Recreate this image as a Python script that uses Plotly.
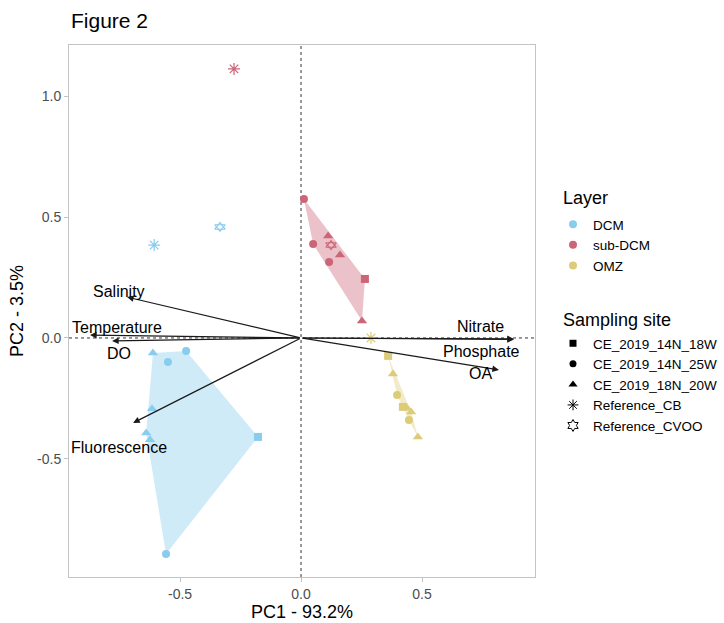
import plotly.graph_objects as go

# ---------------- data ----------------
layers = ["DCM", "sub-DCM", "OMZ"]
layer_colors = ["#88CCEE", "#CC6677", "#DDCC77"]
layer_fills = ["rgba(136,204,238,0.4)", "rgba(204,102,119,0.4)", "rgba(221,204,119,0.4)"]

sites = ["CE_2019_14N_18W", "CE_2019_14N_25W", "CE_2019_18N_20W", "Reference_CB", "Reference_CVOO"]
site_symbols = ["square", "circle", "triangle-up", "asterisk-open", "hexagram-open"]
site_sizes = [8, 8, 9, 10, 10]

# PC scores per layer, per site
dcm_x = {
    "CE_2019_14N_18W": [-0.178],
    "CE_2019_14N_25W": [-0.550, -0.475, -0.558],
    "CE_2019_18N_20W": [-0.612, -0.616, -0.640, -0.624],
    "Reference_CB": [-0.607],
    "Reference_CVOO": [-0.335],
}
dcm_y = {
    "CE_2019_14N_18W": [-0.409],
    "CE_2019_14N_25W": [-0.099, -0.054, -0.893],
    "CE_2019_18N_20W": [-0.062, -0.293, -0.393, -0.421],
    "Reference_CB": [0.384],
    "Reference_CVOO": [0.459],
}
subdcm_x = {
    "CE_2019_14N_18W": [0.264],
    "CE_2019_14N_25W": [0.012, 0.050, 0.116],
    "CE_2019_18N_20W": [0.112, 0.161, 0.252],
    "Reference_CB": [-0.277],
    "Reference_CVOO": [0.124],
}
subdcm_y = {
    "CE_2019_14N_18W": [0.244],
    "CE_2019_14N_25W": [0.574, 0.388, 0.314],
    "CE_2019_18N_20W": [0.421, 0.343, 0.070],
    "Reference_CB": [1.112],
    "Reference_CVOO": [0.384],
}
omz_x = {
    "CE_2019_14N_18W": [0.360, 0.421],
    "CE_2019_14N_25W": [0.397, 0.446],
    "CE_2019_18N_20W": [0.380, 0.438, 0.455, 0.483],
    "Reference_CB": [0.289],
    "Reference_CVOO": [],
}
omz_y = {
    "CE_2019_14N_18W": [-0.074, -0.285],
    "CE_2019_14N_25W": [-0.236, -0.339],
    "CE_2019_18N_20W": [-0.149, -0.289, -0.306, -0.409],
    "Reference_CB": [0.000],
    "Reference_CVOO": [],
}
layer_x = [dcm_x, subdcm_x, omz_x]
layer_y = [dcm_y, subdcm_y, omz_y]

# loadings
variables = ["Salinity", "Temperature", "DO", "Fluorescence", "Nitrate", "Phosphate", "OA"]
load_pc1 = [-0.719, -0.872, -0.781, -0.694, 0.880, 0.880, 0.818]
load_pc2 = [0.169, 0.012, -0.012, -0.351, -0.004, -0.006, -0.132]
# label offsets in pixels (style)
label_dx = [-8, 27, 7, -14, -33, -32, -18]
label_dy = [6, 8, -13, -25, 12, -12, -4]

x_ticks = [-0.5, 0.0, 0.5]
y_ticks = [-0.5, 0.0, 0.5, 1.0]

FONT = "Liberation Sans, Arial, Helvetica, sans-serif"


def convex_hull(pts):
    pts = sorted(set(pts))
    if len(pts) <= 2:
        return pts

    def cross(o, a, b):
        return (a[0] - o[0]) * (b[1] - o[1]) - (a[1] - o[1]) * (b[0] - o[0])

    lower = []
    for p in pts:
        while len(lower) >= 2 and cross(lower[-2], lower[-1], p) <= 0:
            lower.pop()
        lower.append(p)
    upper = []
    for p in reversed(pts):
        while len(upper) >= 2 and cross(upper[-2], upper[-1], p) <= 0:
            upper.pop()
        upper.append(p)
    return lower[:-1] + upper[:-1]


L, R, T, B = 69, 189, 45, 46
W, H = 724, 623
pw, ph = W - L - R, H - T - B

fig = go.Figure()

# hulls (CE sites only)
for li, lay in enumerate(layers):
    pts = []
    for s in sites[:3]:
        pts += list(zip(layer_x[li][s], layer_y[li][s]))
    hull = convex_hull(pts)
    hx = [p[0] for p in hull] + [hull[0][0]]
    hy = [p[1] for p in hull] + [hull[0][1]]
    fig.add_trace(go.Scatter(x=hx, y=hy, mode="lines", fill="toself",
                             fillcolor=layer_fills[li], line=dict(width=0, color=layer_fills[li]),
                             hoverinfo="skip", showlegend=False))

# zero lines
fig.add_hline(y=0, line=dict(color="#333333", width=1, dash="dot"), layer="below")
fig.add_vline(x=0, line=dict(color="#333333", width=1, dash="dot"), layer="below")

# points
for li, lay in enumerate(layers):
    for si, s in enumerate(sites):
        xs = layer_x[li][s]
        ys = layer_y[li][s]
        if not xs:
            continue
        if s == "Reference_CVOO":
            # two overlapping open triangles (star of David)
            for sym in ["triangle-up-open", "triangle-down-open"]:
                fig.add_trace(go.Scatter(
                    x=xs, y=ys, mode="markers", showlegend=False,
                    marker=dict(symbol=sym, size=9, color=layer_colors[li],
                                line=dict(width=1.1, color=layer_colors[li])),
                ))
            continue
        open_sym = s.startswith("Reference")
        fig.add_trace(go.Scatter(
            x=xs, y=ys, mode="markers", showlegend=False,
            marker=dict(symbol=site_symbols[si], size=site_sizes[si], color=layer_colors[li],
                        line=dict(width=1.2 if open_sym else 0, color=layer_colors[li])),
        ))

# legend entries: Layer
for li, lay in enumerate(layers):
    fig.add_trace(go.Scatter(x=[None], y=[None], mode="markers", name=lay,
                             marker=dict(symbol="circle", size=8, color=layer_colors[li]),
                             legend="legend"))
# legend entries: Sampling site
for si, s in enumerate(sites):
    open_sym = s.startswith("Reference")
    fig.add_trace(go.Scatter(x=[None], y=[None], mode="markers", name=s,
                             marker=dict(symbol=site_symbols[si], size=site_sizes[si] - 1, color="black",
                                         line=dict(width=1 if open_sym else 0, color="black")),
                             legend="legend2"))

# arrows + labels
for v, px, py, dx, dy in zip(variables, load_pc1, load_pc2, label_dx, label_dy):
    fig.add_annotation(x=px, y=py, ax=0, ay=0, xref="x", yref="y", axref="x", ayref="y",
                       text="", showarrow=True, arrowhead=2, arrowsize=1.1, arrowwidth=1.2,
                       arrowcolor="#1a1a1a", standoff=0)
    fig.add_annotation(x=px, y=py, xref="x", yref="y", text=v, showarrow=False,
                       xshift=dx, yshift=dy, font=dict(size=16, color="black", family=FONT))

# legend titles
for ttl, ypx in zip(["Layer", "Sampling site"], [198, 320]):
    fig.add_annotation(x=(561 - L) / pw, y=(H - B - ypx) / ph, xref="paper", yref="paper",
                       text=ttl, showarrow=False, xanchor="left", yanchor="middle",
                       font=dict(size=18, color="black", family=FONT))

axis_common = dict(showgrid=False, zeroline=False, showline=True, mirror=True, automargin=False,
                   linecolor="#c4c4c4", linewidth=1, ticks="outside", ticklen=4,
                   tickcolor="#c4c4c4", tickfont=dict(size=14, color="#4d4d4d", family=FONT))

fig.update_layout(
    width=W, height=H,
    margin=dict(l=L, r=R, t=T, b=B, autoexpand=False),
    paper_bgcolor="white", plot_bgcolor="white",
    font=dict(family=FONT, color="black"),
    title=dict(text="Figure 2", x=0, xref="paper", xanchor="left", y=1, yref="container",
               yanchor="top", pad=dict(t=13, l=2), font=dict(size=21, color="black", family=FONT)),
    xaxis=dict(range=[-0.959, 0.967], tickvals=x_ticks, ticktext=[f"{t:.1f}" for t in x_ticks],
               title=dict(text="PC1 - 93.2%", font=dict(size=18, family=FONT), standoff=0),
               **axis_common),
    yaxis=dict(range=[-0.988, 1.211], tickvals=y_ticks, ticktext=[f"{t:.1f}" for t in y_ticks],
               title=dict(text="PC2 - 3.5%", font=dict(size=18, family=FONT), standoff=8),
               **axis_common),
    legend=dict(x=553 / W, xref="container", xanchor="left",
                y=1 - 209 / H, yref="container", yanchor="top",
                font=dict(size=13.5, family=FONT), itemwidth=30, bgcolor="rgba(0,0,0,0)"),
    legend2=dict(x=553 / W, xref="container", xanchor="left",
                 y=1 - 328 / H, yref="container", yanchor="top",
                 font=dict(size=13.5, family=FONT), itemwidth=30, bgcolor="rgba(0,0,0,0)"),
)

fig.write_html("out.html", config={"displayModeBar": False},
               post_script="document.body.style.margin='0px';document.body.style.overflow='hidden';")
